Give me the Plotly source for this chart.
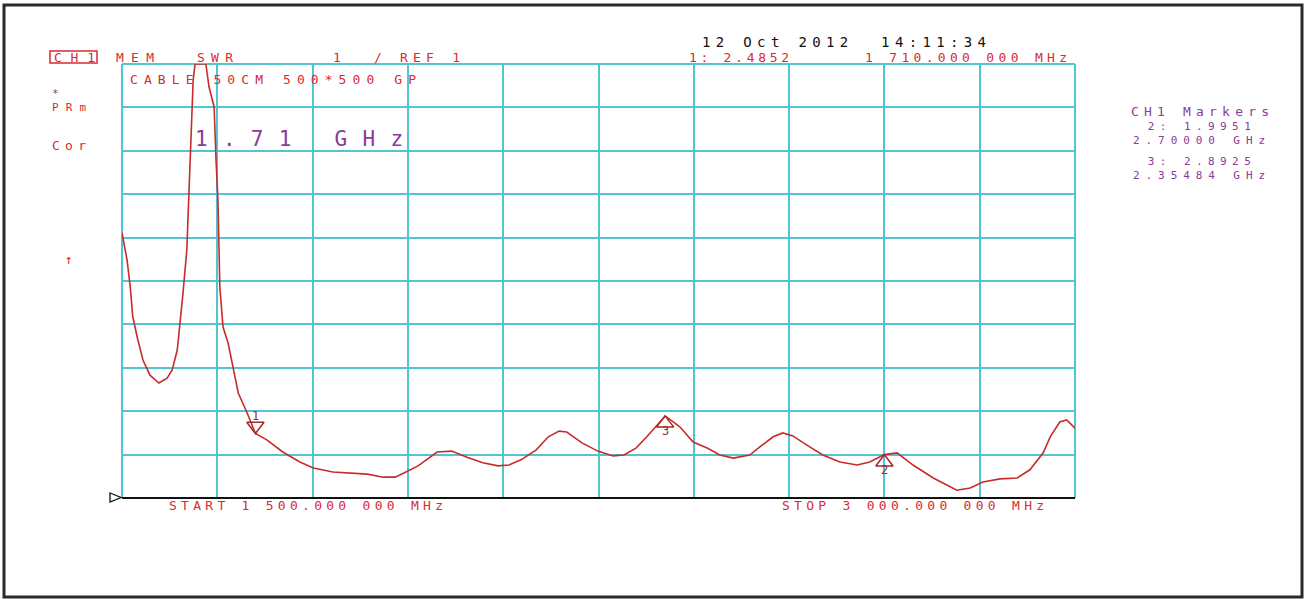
import plotly.graph_objects as go

freq_mhz = [1500, 1508, 1513, 1517, 1525, 1533, 1544, 1558, 1571, 1579, 1587, 1591, 1596, 1602,
            1607, 1612, 1615, 1632, 1637, 1645, 1648, 1651, 1654, 1659, 1667, 1675, 1683, 1697,
            1710, 1728, 1753, 1780, 1801, 1832, 1857, 1886, 1911, 1930, 1947, 1966, 1996, 2019,
            2043, 2068, 2092, 2109, 2128, 2152, 2171, 2188, 2200, 2224, 2249, 2273, 2290, 2309,
            2326, 2345, 2355, 2378, 2399, 2421, 2441, 2462, 2488, 2504, 2525, 2540, 2556, 2578,
            2603, 2630, 2657, 2677, 2700, 2720, 2745, 2777, 2814, 2835, 2855, 2882, 2909, 2929,
            2950, 2961, 2976, 2987, 3000]
swr = [7.11, 6.48, 5.86, 5.17, 4.64, 4.18, 3.83, 3.65, 3.76, 3.95, 4.41, 4.94, 5.72, 6.71,
       8.79, 10.63, 11.0, 11.0, 10.47, 10.01, 8.79, 7.87, 5.86, 4.94, 4.57, 3.95, 3.42, 2.96,
       2.49, 2.34, 2.06, 1.83, 1.69, 1.60, 1.58, 1.55, 1.48, 1.48, 1.60, 1.74, 2.06, 2.08,
       1.94, 1.81, 1.74, 1.76, 1.88, 2.11, 2.41, 2.54, 2.52, 2.27, 2.08, 1.97, 1.99, 2.15,
       2.41, 2.73, 2.89, 2.64, 2.29, 2.15, 1.99, 1.92, 1.99, 2.18, 2.41, 2.50, 2.43, 2.22,
       1.99, 1.83, 1.76, 1.83, 2.00, 2.04, 1.76, 1.46, 1.18, 1.23, 1.37, 1.44, 1.46, 1.65,
       2.04, 2.41, 2.75, 2.80, 2.61]
marker_ids = ["1", "2", "3"]
marker_freq_mhz = [1710.0, 2700.0, 2354.84]
marker_swr = [2.4852, 1.9951, 2.8925]

x_start, x_stop, x_div = 1500, 3000, 150
y_ref, y_top, y_div = 1, 11, 1

# ---- layout geometry (pixels) ----
W, H = 1306, 599
L, R, T, B = 122, 1075, 64, 498


def px(x):
    return (x - L) / (R - L)


def py(y):
    return (B - y) / (B - T)


RED = "#da2a30"
PURPLE = "#8b3a9b"
TRACE = "#c62c2c"
MRK = "#a02828"
GRID = "#55c4d2"
MONO = "DejaVu Sans Mono"

annotations = []


def spaced(text, width, size, color=None):
    n = len(text)
    adv = 0.602 * size
    ls = 0.0 if n < 2 else max(0.0, (width - n * adv) / (n - 1))
    col = f";color:{color}" if color else ""
    return f'<span style="letter-spacing:{ls:.2f}px{col}">{text}</span>'


def label(text, x0, x1, yc, color, size=13, family=MONO):
    annotations.append(dict(
        text=spaced(text, x1 - x0, size),
        x=px(x0), y=py(yc), xref="paper", yref="paper",
        xanchor="left", yanchor="middle", showarrow=False,
        borderpad=0, font=dict(family=family, size=size, color=color)))


def block(lines, x, yc, color, size=11, anchor="center"):
    annotations.append(dict(
        text="<br>".join(lines),
        x=px(x), y=py(yc), xref="paper", yref="paper", align=anchor,
        xanchor=anchor, yanchor="middle", showarrow=False,
        borderpad=0, font=dict(family=MONO, size=size, color=color)))


fig = go.Figure()
fig.add_trace(go.Scatter(x=freq_mhz, y=swr, mode="lines",
                         line=dict(color=TRACE, width=1.6), hoverinfo="skip"))
fig.add_trace(go.Scatter(
    x=marker_freq_mhz, y=marker_swr, mode="markers", cliponaxis=False,
    marker=dict(symbol="triangle-up-open", size=15, color=MRK,
                angle=[180, 0, 0], standoff=7.5, line=dict(width=1.5, color=MRK)),
    hoverinfo="skip"))

label_shift = {"1": 18, "2": -15, "3": -15}
for mid, f, s in zip(marker_ids, marker_freq_mhz, marker_swr):
    annotations.append(dict(text=mid, x=f, y=s, xref="x", yref="y", showarrow=False,
                            yshift=label_shift[mid], font=dict(family=MONO, size=12, color=MRK)))

# header texts
label("CH1", 53, 94, 57, RED)
label("MEM", 115, 153, 57, RED)
label("SWR", 196, 232, 57, RED)
label("1", 332, 340, 57, RED)
label("/ REF 1", 373, 459, 57, RED)
label("1: 2.4852", 688, 788, 57, RED)
label("1 710.000 000 MHz", 864, 1066, 57, RED)
label("12 Oct 2012  14:11:34", 701, 985, 42, "#111111", size=14)
label("CABLE 50CM 500*500 GP", 129, 415, 79, RED)
block([spaced("*", 8, 11, PURPLE), spaced("PRm", 34, 11)], 51, 100.5, RED, size=11, anchor="left")
label("Cor", 51, 85, 145, RED)
label("1.71 GHz", 194, 402, 139, PURPLE, size=21)
label("↑", 64, 72, 259, RED)
label("CH1 Markers", 1130, 1268, 112, PURPLE)
block([spaced("2: 1.9951", 103, 11), spaced("2.70000 GHz", 132, 11)], 1202, 133.5, PURPLE)
block([spaced("3: 2.8925", 103, 11), spaced("2.35484 GHz", 132, 11)], 1202, 168.5, PURPLE)
label("START 1 500.000 000 MHz", 168, 442, 505, RED)
label("STOP 3 000.000 000 MHz", 781, 1043, 505, RED)

shapes = [
    dict(type="rect", xref="paper", yref="paper", x0=px(4), x1=px(1302), y0=py(597), y1=py(5),
         line=dict(color="#2a2a2a", width=3)),
    dict(type="rect", xref="paper", yref="paper", x0=px(50), x1=px(97), y0=py(63), y1=py(51),
         line=dict(color=RED, width=1.5)),
    dict(type="line", xref="paper", yref="paper", x0=0, x1=1, y0=1, y1=1,
         line=dict(color=GRID, width=2), layer="below"),
    dict(type="line", xref="paper", yref="paper", x0=0, x1=0, y0=0, y1=1,
         line=dict(color=GRID, width=2), layer="below"),
    dict(type="line", xref="paper", yref="paper", x0=1, x1=1, y0=0, y1=1,
         line=dict(color=GRID, width=2), layer="below"),
    dict(type="line", xref="paper", yref="paper", x0=0, x1=1, y0=0, y1=0,
         line=dict(color="#111111", width=2)),
    dict(type="path", xref="paper", yref="paper",
         path=f"M {px(110)},{py(493)} L {px(121)},{py(497.5)} L {px(110)},{py(502)} Z",
         line=dict(color="#111111", width=1.3), fillcolor="white"),
]

fig.update_layout(
    width=W, height=H,
    margin=dict(l=L, r=W - R, t=T, b=H - B),
    paper_bgcolor="white", plot_bgcolor="white",
    showlegend=False,
    annotations=annotations, shapes=shapes,
    xaxis=dict(range=[x_start, x_stop], tick0=x_start, dtick=x_div, showgrid=True,
               gridcolor=GRID, gridwidth=2, showticklabels=False, ticks="",
               zeroline=False, showline=False, fixedrange=True),
    yaxis=dict(range=[y_ref, y_top], tick0=y_ref, dtick=y_div, showgrid=True,
               gridcolor=GRID, gridwidth=2, showticklabels=False, ticks="",
               zeroline=False, showline=False, fixedrange=True),
)

fig.write_html("out.html", config={"displayModeBar": False},
               post_script="document.body.style.margin='0';document.body.style.overflow='hidden';")
